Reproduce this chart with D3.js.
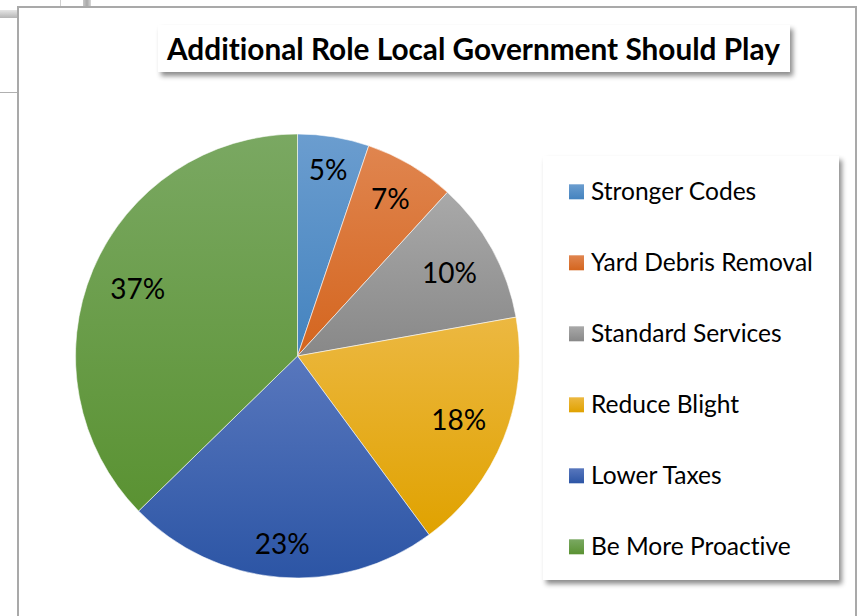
<!DOCTYPE html>
<html><head><meta charset="utf-8">
<script src="https://cdn.jsdelivr.net/npm/d3@7"></script>
<style>body{margin:0;background:#fff}svg{display:block}text{font-variant-ligatures:none;font-feature-settings:"liga" 0}</style>
</head><body>
<svg id="chart" width="863" height="616"></svg>
<script>
const title = "Additional Role Local Government Should Play";
const categories = ["Stronger Codes","Yard Debris Removal","Standard Services","Reduce Blight","Lower Taxes","Be More Proactive"];
const values = [5.2, 6.6, 10.4, 17.7, 22.8, 37.3];
const colorsTop = ["#6b9dcf","#e0854f","#a9a9a9","#ecb841","#5877bd","#7aa862"];
const colorsBottom = ["#4483bf","#d4651e","#888888","#e0a200","#2c55a5","#5a9232"];

const W = 863, H = 616;
const FONT = "Lato, 'Open Sans', sans-serif";
const svg = d3.select("#chart");
const defs = svg.append("defs");

// shadow filter
const f = defs.append("filter").attr("id","shadow").attr("x","-10%").attr("y","-10%").attr("width","130%").attr("height","130%");
f.append("feGaussianBlur").attr("in","SourceAlpha").attr("stdDeviation",2.5).attr("result","b");
f.append("feOffset").attr("in","b").attr("dx",3).attr("dy",4).attr("result","o");
f.append("feFlood").attr("flood-color","#000").attr("flood-opacity",0.45).attr("result","c");
f.append("feComposite").attr("in","c").attr("in2","o").attr("operator","in").attr("result","s");
const fm = f.append("feMerge"); fm.append("feMergeNode").attr("in","s"); fm.append("feMergeNode").attr("in","SourceGraphic");

categories.forEach((c,i)=>{
  const g = defs.append("linearGradient").attr("id","g"+i).attr("x1",0).attr("y1",0).attr("x2",0).attr("y2",1);
  g.append("stop").attr("offset","0%").attr("stop-color",colorsTop[i]);
  g.append("stop").attr("offset","100%").attr("stop-color",colorsBottom[i]);
});
const gg = defs.append("linearGradient").attr("id","gray").attr("x1",0).attr("y1",0).attr("x2",0).attr("y2",1);
gg.append("stop").attr("offset","0%").attr("stop-color","#e6e6e6");
gg.append("stop").attr("offset","100%").attr("stop-color","#b5b5b5");
const gh = defs.append("linearGradient").attr("id","grayh").attr("x1",0).attr("y1",0).attr("x2",1).attr("y2",0);
gh.append("stop").attr("offset","0%").attr("stop-color","#c8c8c8");
gh.append("stop").attr("offset","50%").attr("stop-color","#a8a8a8");
gh.append("stop").attr("offset","100%").attr("stop-color","#d8d8d8");

// spreadsheet pieces outside chart
svg.append("rect").attr("x",0).attr("y",10).attr("width",18).attr("height",8).attr("fill","url(#gray)");
svg.append("line").attr("x1",0).attr("x2",18).attr("y1",92.5).attr("y2",92.5).attr("stroke","#b0b0b0");
svg.append("line").attr("x1",60.5).attr("x2",60.5).attr("y1",0).attr("y2",7).attr("stroke","#d0d0d0");
svg.append("rect").attr("x",83).attr("y",0).attr("width",8).attr("height",7).attr("fill","url(#grayh)");

// chart frame
svg.append("rect").attr("x",18).attr("y",7).attr("width",838).attr("height",640)
  .attr("fill","#fff").attr("stroke","#a9a9a9").attr("stroke-width",2);

// fit helper
function fitFont(sel, target, base){
  sel.style("font-size", base+"px");
  const w = sel.node().getComputedTextLength();
  const s = base*target/w;
  sel.style("font-size", s+"px");
  return s;
}

// title
svg.append("rect").attr("x",158).attr("y",25).attr("width",632).attr("height",47)
  .attr("fill","#fff").attr("filter","url(#shadow)");
const t = svg.append("text").attr("x",167).attr("y",59.5).attr("font-family",FONT)
  .attr("font-weight","bold").attr("fill","#000").text(title);
fitFont(t, 613, 30);

// pie
const cx = 297.5, cy = 356, R = 222;
const pie = d3.pie().sort(null).value(d=>d);
const arcs = pie(values);
const arc = d3.arc().innerRadius(0).outerRadius(R);
const pg = svg.append("g").attr("transform",`translate(${cx},${cy})`);
pg.selectAll("path").data(arcs).join("path")
  .attr("d",arc).attr("fill",(d,i)=>"url(#g"+i+")")
  .attr("stroke","#fff").attr("stroke-width",0.8).attr("stroke-opacity",0.7);

const fmt = d3.format(".0f");
const ls = 28;
const lab = pg.selectAll("text.lab").data(arcs).join("text").attr("class","lab")
  .attr("font-family",FONT).attr("text-anchor","middle").attr("fill","#000")
  .style("font-size", ls+"px")
  .text(d=>fmt(d.value)+"%");
// "best fit" inside-end placement: push label box outward until its far corner reaches Rc
const Rc = 210, hh = 17;
lab.each(function(d){
  const a = (d.startAngle + d.endAngle)/2;
  const ux = Math.sin(a), uy = -Math.cos(a);
  const hw = this.getComputedTextLength()/2 + 5;
  const b = Math.abs(ux)*hw + Math.abs(uy)*hh;
  const c = hw*hw + hh*hh - Rc*Rc;
  const dist = -b + Math.sqrt(b*b - c);
  d3.select(this).attr("x", dist*ux).attr("y", dist*uy + ls*0.36);
});

// legend
svg.append("rect").attr("x",543).attr("y",156).attr("width",296).attr("height",424)
  .attr("fill","#fff").attr("filter","url(#shadow)");
const y0 = 191.8, step = 71;
const lg = svg.append("g");
const items = lg.selectAll("g").data(categories).join("g")
  .attr("transform",(d,i)=>`translate(569,${y0+i*step})`);
items.append("rect").attr("x",0).attr("y",-7.5).attr("width",15).attr("height",15)
  .attr("fill",(d,i)=>"url(#g"+i+")");
const lt = items.append("text").attr("x",22).attr("font-family",FONT).attr("fill","#000").text(d=>d);
const lfs = fitFont(lt.filter((d,i)=>i===1), 222, 24);
lt.style("font-size", lfs+"px").attr("y", lfs*0.35);
</script>
</body></html>
